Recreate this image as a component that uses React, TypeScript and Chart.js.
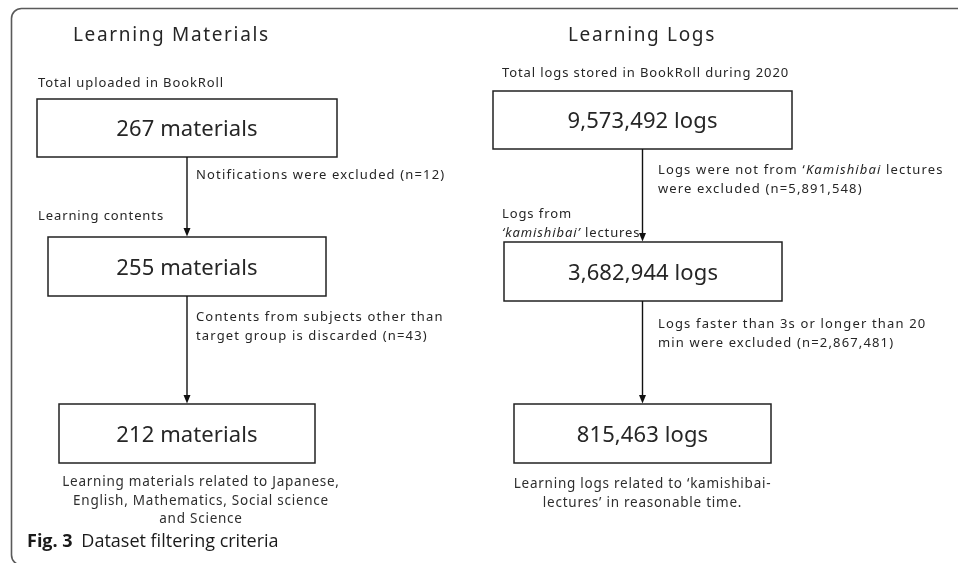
import React, { useEffect, useRef } from 'react';
import { Chart, registerables } from 'chart.js';

Chart.register(...registerables);

// ---------- data ----------
const panelTitles = ['Learning Materials', 'Learning Logs'];
const units = ['materials', 'logs'];
const materialCounts = [267, 255, 212];
const logCounts = [9573492, 3682944, 815463];
const materialStageLabels = ['Total uploaded in BookRoll', 'Learning contents'];
const logStageLabels = ['Total logs stored in BookRoll during 2020', 'Logs from|*‘kamishibai’* lectures'];
const materialExclusions = ['Notifications were excluded (n=12)', 'Contents from subjects other than|target group is discarded (n=43)'];
const logExclusions = ['Logs were not from ‘*Kamishibai* lectures|were excluded (n=5,891,548)', 'Logs faster than 3s or longer than 20|min were excluded (n=2,867,481)'];
const materialResult = 'Learning materials related to Japanese,|English, Mathematics, Social science|and Science';
const logResult = 'Learning logs related to ‘kamishibai-|lectures’ in reasonable time.';
const figLabel = 'Fig. 3';
const figCaption = 'Dataset filtering criteria';

// ---------- layout (chart-space units) ----------
const layout = {
  panels: [
    {
      cx: 187,
      titleX: 73,
      stageX: 38,
      stageY: [82, 215],
      exclX: 196,
      exclY: [174, 316],
      resultX: 201,
      resultY: 481,
      boxes: [
        { x0: 37, x1: 337, y0: 99, y1: 157 },
        { x0: 48, x1: 326, y0: 237, y1: 296 },
        { x0: 59, x1: 315, y0: 404, y1: 463 },
      ],
    },
    {
      cx: 642.5,
      titleX: 568,
      stageX: 502,
      stageY: [72, 213],
      exclX: 658,
      exclY: [169, 323],
      resultX: 642.5,
      resultY: 483,
      boxes: [
        { x0: 493, x1: 792, y0: 91, y1: 149 },
        { x0: 504, x1: 782, y0: 242, y1: 301 },
        { x0: 514, x1: 771, y0: 404, y1: 463 },
      ],
    },
  ],
  titleY: 34,
  lineH: 19,
  resultLineH: 18.5,
};

const FONT = '"Noto Sans", sans-serif';
const CAP_FONT = '"Open Sans", "Noto Sans", sans-serif';
const INK = '#262626';

function drawRich(ctx: CanvasRenderingContext2D, line: string, x: number, y: number, size: number, align: 'left' | 'center', spacing: number) {
  const parts = line.split('*');
  const segs = parts.map((t, i) => ({ t, italic: i % 2 === 1 }));
  (ctx as any).letterSpacing = `${spacing}px`;
  let total = 0;
  for (const s of segs) {
    ctx.font = `${s.italic ? 'italic ' : ''}${size}px ${FONT}`;
    total += ctx.measureText(s.t).width;
  }
  let cx = align === 'center' ? x - total / 2 : x;
  const yy = y + size * 0.1;
  ctx.textAlign = 'left';
  for (const s of segs) {
    ctx.font = `${s.italic ? 'italic ' : ''}${size}px ${FONT}`;
    ctx.fillText(s.t, cx, yy);
    cx += ctx.measureText(s.t).width;
  }
  (ctx as any).letterSpacing = '0px';
}

const flowPlugin = {
  id: 'flow',
  afterDraw(chart: any) {
    const { ctx } = chart;
    const xs = chart.scales.x;
    const ys = chart.scales.y;
    const X = (v: number) => xs.getPixelForValue(v);
    const Y = (v: number) => ys.getPixelForValue(v);
    ctx.save();
    ctx.fillStyle = '#ffffff';
    ctx.fillRect(0, 0, chart.width, chart.height);

    // frame
    ctx.strokeStyle = '#5a5a5a';
    ctx.lineWidth = 1.6;
    ctx.beginPath();
    ctx.roundRect(X(11.5), Y(8.5), X(1000) - X(11.5), Y(565) - Y(8.5), 10);
    ctx.stroke();

    ctx.textBaseline = 'middle';
    ctx.fillStyle = INK;

    const countsList = [materialCounts, logCounts];
    const stageList = [materialStageLabels, logStageLabels];
    const exclList = [materialExclusions, logExclusions];
    const resultList = [materialResult, logResult];

    layout.panels.forEach((p, pi) => {
      // title
      ctx.fillStyle = INK;
      drawRich(ctx, panelTitles[pi], X(p.titleX), Y(layout.titleY), 19, 'left', 1.65);

      // stage labels
      stageList[pi].forEach((lbl, si) => {
        lbl.split('|').forEach((ln, li) => {
          drawRich(ctx, ln, X(p.stageX), Y(p.stageY[si] + li * layout.lineH), 13, 'left', 0.9);
        });
      });

      // boxes
      p.boxes.forEach((b, bi) => {
        ctx.strokeStyle = '#222';
        ctx.lineWidth = 1.5;
        ctx.strokeRect(X(b.x0), Y(b.y0), X(b.x1) - X(b.x0), Y(b.y1) - Y(b.y0));
        ctx.fillStyle = INK;
        const txt = `${countsList[pi][bi].toLocaleString('en-US')} ${units[pi]}`;
        drawRich(ctx, txt, X((b.x0 + b.x1) / 2), Y((b.y0 + b.y1) / 2), 22, 'center', 0.1);
      });

      // arrows
      for (let i = 0; i < p.boxes.length - 1; i++) {
        const top = p.boxes[i].y1;
        const bot = p.boxes[i + 1].y0;
        ctx.strokeStyle = '#111';
        ctx.lineWidth = 1.4;
        ctx.beginPath();
        ctx.moveTo(X(p.cx), Y(top));
        ctx.lineTo(X(p.cx), Y(bot - 6));
        ctx.stroke();
        ctx.fillStyle = '#111';
        ctx.beginPath();
        ctx.moveTo(X(p.cx), Y(bot - 0.5));
        ctx.lineTo(X(p.cx - 3.5), Y(bot - 9));
        ctx.lineTo(X(p.cx + 3.5), Y(bot - 9));
        ctx.closePath();
        ctx.fill();
      }

      // exclusions
      ctx.fillStyle = INK;
      exclList[pi].forEach((lbl, ei) => {
        lbl.split('|').forEach((ln, li) => {
          drawRich(ctx, ln, X(p.exclX), Y(p.exclY[ei] + li * layout.lineH), 13, 'left', 1.15);
        });
      });

      // result caption
      ctx.fillStyle = '#2e2e2e';
      resultList[pi].split('|').forEach((ln, li) => {
        drawRich(ctx, ln, X(p.resultX), Y(p.resultY + li * layout.resultLineH), 13.5, 'center', 0.75);
      });
    });

    // figure caption
    ctx.fillStyle = '#1a1a1a';
    ctx.textAlign = 'left';
    ctx.font = `bold 18px ${CAP_FONT}`;
    ctx.fillText(figLabel, X(27), Y(542));
    const w = ctx.measureText(figLabel + ' ').width;
    ctx.font = `18px ${CAP_FONT}`;
    ctx.fillText(figCaption, X(27) + w + 4, Y(542));
    ctx.restore();
  },
};

export default function App() {
  const ref = useRef<HTMLCanvasElement | null>(null);
  useEffect(() => {
    document.body.style.margin = '0';
    const canvas = ref.current!;
    const points = layout.panels.flatMap((p) => p.boxes.map((b) => ({ x: (b.x0 + b.x1) / 2, y: (b.y0 + b.y1) / 2 })));
    const chart = new Chart(canvas, {
      type: 'scatter',
      data: { datasets: [{ data: points, pointRadius: 0, pointHoverRadius: 0 }] },
      options: {
        responsive: false,
        animation: false,
        events: [],
        layout: { padding: 0 },
        plugins: { legend: { display: false }, tooltip: { enabled: false } },
        scales: {
          x: { type: 'linear', min: 0, max: 958, display: false },
          y: { type: 'linear', min: 0, max: 563, reverse: true, display: false },
        },
      },
      plugins: [flowPlugin],
    });
    return () => chart.destroy();
  }, []);
  return <canvas ref={ref} width={958} height={563} style={{ display: 'block' }} />;
}
